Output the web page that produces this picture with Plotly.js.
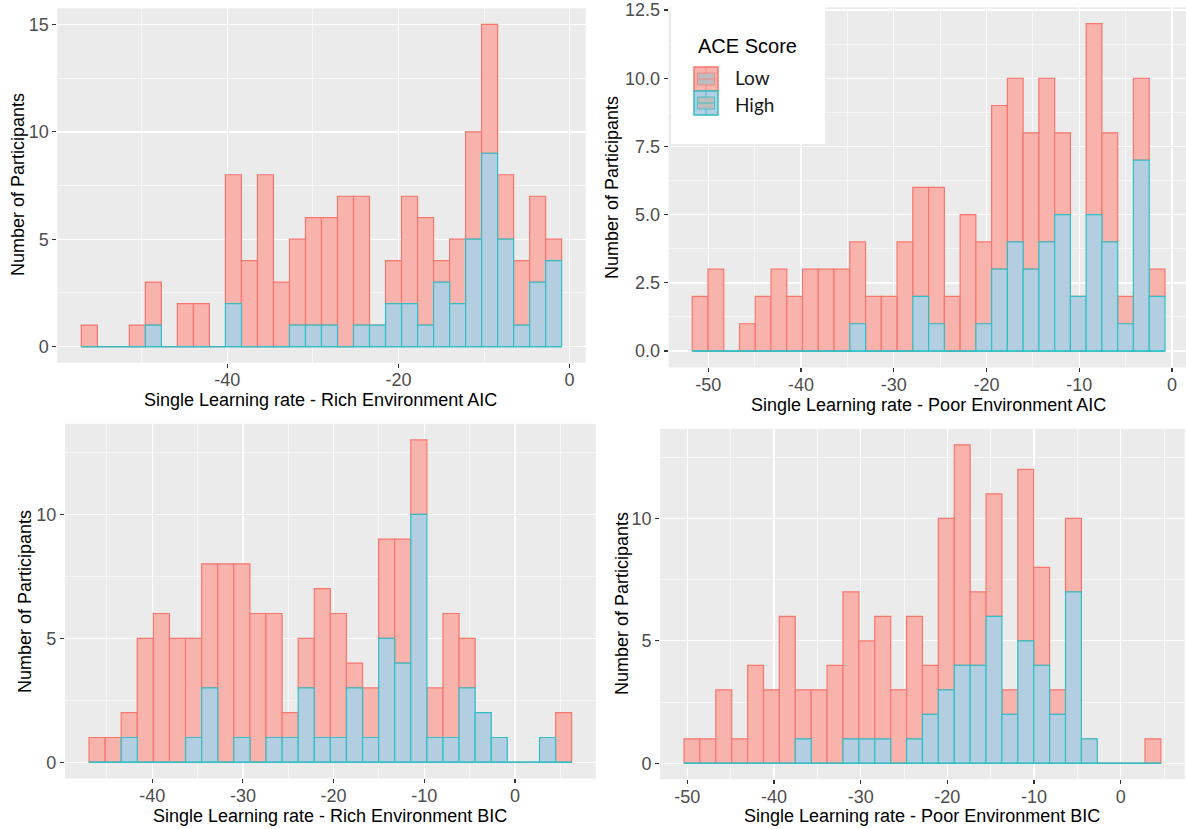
<!DOCTYPE html>
<html>
<head>
<meta charset="utf-8">
<script src="https://cdn.plot.ly/plotly-3.0.1.min.js"></script>
<style>
html, body { margin: 0; padding: 0; background: #ffffff; }
#chart { width: 1186px; height: 829px; }
</style>
</head>
<body>
<div id="chart"></div>
<script>
// ---------------- DATA (counts per histogram bin, 30 bins each) ----------------
// Panel 1: Single Learning rate - Rich Environment AIC
const richAIC_binStart = -57.05;
const richAIC_binWidth = 1.8707;
const richAIC_low  = [1,0,0,1,2,0,2,2,0,6,4,8,3,4,5,5,7,6,0,2,5,5,1,3,5,6,3,3,4,1];
const richAIC_high = [0,0,0,0,1,0,0,0,0,2,0,0,0,1,1,1,0,1,1,2,2,1,3,2,5,9,5,1,3,4];

// Panel 2: Single Learning rate - Poor Environment AIC
const poorAIC_binStart = -51.73;
const poorAIC_binWidth = 1.699;
const poorAIC_low  = [2,3,0,1,2,3,2,3,3,3,3,2,2,4,4,5,2,5,3,6,6,5,6,3,0,7,4,1,3,1];
const poorAIC_high = [0,0,0,0,0,0,0,0,0,0,1,0,0,0,2,1,0,0,1,3,4,3,4,5,2,5,4,1,7,2];

// Panel 3: Single Learning rate - Rich Environment BIC
const richBIC_binStart = -46.97;
const richBIC_binWidth = 1.774;
const richBIC_low  = [1,1,1,5,6,5,4,5,8,7,6,5,1,2,6,5,1,2,4,5,3,2,5,2,0,0,0,0,0,2];
const richBIC_high = [0,0,1,0,0,0,1,3,0,1,0,1,1,3,1,1,3,1,5,4,10,1,1,3,2,1,0,0,1,0];

// Panel 4: Single Learning rate - Poor Environment BIC
const poorBIC_binStart = -50.38;
const poorBIC_binWidth = 1.834;
const poorBIC_low  = [1,1,3,1,4,3,6,2,3,4,6,4,5,3,5,2,7,9,3,5,1,7,4,1,3,0,0,0,0,1];
const poorBIC_high = [0,0,0,0,0,0,0,1,0,0,1,1,1,0,1,2,3,4,4,6,2,5,4,2,7,1,0,0,0,0];

const xTitles = [
  'Single Learning rate - Rich Environment AIC',
  'Single Learning rate - Poor Environment AIC',
  'Single Learning rate - Rich Environment BIC',
  'Single Learning rate - Poor Environment BIC'
];
const yTitle = 'Number of Participants';
const legendTitle = 'ACE Score';
const groupNames = ['Low', 'High'];

// ---------------- LAYOUT / STYLE ----------------
const W = 1186, H = 829;
const FONT = 'Liberation Sans, Arial, sans-serif';
const RED_FILL = '#F9B3AD', RED_LINE = '#F8766D';
const BLUE_FILL = '#B3CDE1', BLUE_LINE = '#2EC0C6';

const panels = [
  { low: richAIC_low, high: richAIC_high, start: richAIC_binStart, width: richAIC_binWidth,
    px: [57.3, 585.7], py: [8.3, 362.7], xr: [-59.86, 1.88], yr: [-0.75, 15.75],
    xd: 20, yd: 5, ydec: 0, xt: [320, 400], yt: [18, 185] },
  { low: poorAIC_low, high: poorAIC_high, start: poorAIC_binStart, width: poorAIC_binWidth,
    px: [668.6, 1186], py: [7.3, 367.4], xr: [-54.28, 1.51], yr: [-0.6, 12.6],
    xd: 10, yd: 2.5, ydec: 1, xt: [928, 405], yt: [612, 188] },
  { low: richBIC_low, high: richBIC_high, start: richBIC_binStart, width: richBIC_binWidth,
    px: [64.9, 595.8], py: [423.8, 778.4], xr: [-49.63, 8.91], yr: [-0.65, 13.65],
    xd: 10, yd: 5, ydec: 0, xt: [330, 816], yt: [25, 602] },
  { low: poorBIC_low, high: poorBIC_high, start: poorBIC_binStart, width: poorBIC_binWidth,
    px: [660.2, 1184.8], py: [428.9, 779.2], xr: [-53.13, 7.4], yr: [-0.65, 13.65],
    xd: 10, yd: 5, ydec: 0, xt: [922, 816], yt: [622, 604] }
];

// tick values across a range, labelled with a plain hyphen-minus as in the source
function ticksFor(range, step, dec) {
  const vals = [], txt = [];
  for (let v = Math.ceil(range[0] / step - 1e-9) * step; v <= range[1] + 1e-9; v += step) {
    const r = Math.round(v * 1000) / 1000;
    vals.push(r);
    txt.push(r.toFixed(dec));
  }
  return { vals, txt };
}

const data = [];
const layout = {
  width: W, height: H,
  margin: { l: 0, r: 0, t: 0, b: 0, pad: 0 },
  paper_bgcolor: '#FFFFFF',
  plot_bgcolor: '#EBEBEB',
  barmode: 'overlay',
  showlegend: false,
  font: { family: FONT, color: '#000000' },
  annotations: [],
  shapes: []
};

const px2x = v => v / W;
const py2y = v => 1 - v / H;

panels.forEach((p, i) => {
  const n = i + 1;
  const xa = n === 1 ? 'x' : 'x' + n;
  const ya = n === 1 ? 'y' : 'y' + n;
  const centers = p.low.map((_, k) => p.start + p.width * (k + 0.5));
  const total = p.low.length;

  // Low group (stacked on top of High)
  data.push({
    type: 'bar', x: centers, y: p.low, base: p.high, width: p.width,
    xaxis: xa, yaxis: ya, name: groupNames[0], hoverinfo: 'skip',
    marker: { color: RED_FILL, line: { color: RED_LINE, width: 1.2 } }
  });
  // High group (bottom)
  data.push({
    type: 'bar', x: centers, y: p.high, base: 0, width: p.width,
    xaxis: xa, yaxis: ya, name: groupNames[1], hoverinfo: 'skip',
    marker: { color: BLUE_FILL, line: { color: BLUE_LINE, width: 1.2 } }
  });
  // zero-height bins drawn as a baseline (as ggplot does)
  data.push({
    type: 'scatter', mode: 'lines', x: [p.start, p.start + p.width * total], y: [0, 0],
    xaxis: xa, yaxis: ya, hoverinfo: 'skip',
    line: { color: BLUE_LINE, width: 1.4 }
  });

  const common = {
    tickmode: 'array', ticks: 'outside', ticklen: 4, tickwidth: 1.1,
    tickcolor: '#333333', showgrid: true, gridcolor: '#FFFFFF', gridwidth: 1.4,
    zeroline: false, showline: false, fixedrange: true,
    tickfont: { family: FONT, size: 18, color: '#4D4D4D' }
  };
  const xt = ticksFor(p.xr, p.xd, 0);
  const yt = ticksFor(p.yr, p.yd, p.ydec);
  layout[n === 1 ? 'xaxis' : 'xaxis' + n] = Object.assign({}, common, {
    domain: [px2x(p.px[0]), px2x(p.px[1])], range: p.xr, anchor: ya,
    tickvals: xt.vals, ticktext: xt.txt, ticklabelstandoff: -3,
    minor: { dtick: p.xd / 2, tick0: 0, showgrid: true, gridcolor: '#FFFFFF', gridwidth: 0.6, ticks: '' }
  });
  layout[n === 1 ? 'yaxis' : 'yaxis' + n] = Object.assign({}, common, {
    domain: [py2y(p.py[1]), py2y(p.py[0])], range: p.yr, anchor: xa,
    tickvals: yt.vals, ticktext: yt.txt,
    minor: { dtick: p.yd / 2, tick0: 0, showgrid: true, gridcolor: '#FFFFFF', gridwidth: 0.6, ticks: '' }
  });

  layout.annotations.push({
    xref: 'paper', yref: 'paper', x: px2x(p.xt[0]), y: py2y(p.xt[1]),
    xanchor: 'center', yanchor: 'middle', showarrow: false, text: xTitles[i],
    font: { family: FONT, size: 18, color: '#000000' }
  });
  layout.annotations.push({
    xref: 'paper', yref: 'paper', x: px2x(p.yt[0]), y: py2y(p.yt[1]),
    xanchor: 'center', yanchor: 'middle', showarrow: false, text: yTitle, textangle: -90,
    font: { family: FONT, size: 18, color: '#000000' }
  });
});

// ---------------- LEGEND (drawn box in the top-right panel) ----------------
function rectPx(x0, y0, x1, y1, fill, line, lw) {
  return { type: 'rect', xref: 'paper', yref: 'paper', layer: 'above',
    x0: px2x(x0), x1: px2x(x1), y0: py2y(y1), y1: py2y(y0),
    fillcolor: fill, line: { color: line, width: lw } };
}
function linePx(x0, y0, x1, y1, color, lw) {
  return { type: 'line', xref: 'paper', yref: 'paper', layer: 'above',
    x0: px2x(x0), x1: px2x(x1), y0: py2y(y0), y1: py2y(y1),
    line: { color: color, width: lw } };
}
layout.shapes.push(rectPx(671, 0, 825, 144, '#FFFFFF', 'rgba(0,0,0,0)', 0));
const keys = [
  { y0: 67, fill: RED_FILL, line: RED_LINE, inner: 'rgba(248,118,109,0.7)' },
  { y0: 91, fill: BLUE_FILL, line: BLUE_LINE, inner: 'rgba(46,192,198,0.8)' }
];
keys.forEach(k => {
  const y0 = k.y0, y1 = k.y0 + 24;
  layout.shapes.push(rectPx(694, y0, 718, y1, k.fill, k.line, 1.5));
  layout.shapes.push(rectPx(697.5, y0 + 6, 714.5, y1 - 6, '#BDBDBD', k.inner, 1));
  layout.shapes.push(linePx(697.5, y0 + 12, 714.5, y0 + 12, k.inner, 1));
  layout.shapes.push(linePx(706, y0, 706, y0 + 6, k.inner, 1));
  layout.shapes.push(linePx(706, y1 - 6, 706, y1, k.inner, 1));
});
layout.annotations.push({
  xref: 'paper', yref: 'paper', x: px2x(696), y: py2y(46), xanchor: 'left', yanchor: 'middle',
  showarrow: false, text: legendTitle, font: { family: FONT, size: 20, color: '#000000' }
});
groupNames.forEach((g, i) => {
  layout.annotations.push({
    xref: 'paper', yref: 'paper', x: px2x(733), y: py2y(78 + i * 26), xanchor: 'left', yanchor: 'middle',
    showarrow: false, text: g, font: { family: 'Lato, Open Sans, sans-serif', size: 19, color: '#1A1A1A' }
  });
});

Plotly.newPlot('chart', data, layout, { staticPlot: true, displayModeBar: false });
</script>
</body>
</html>
